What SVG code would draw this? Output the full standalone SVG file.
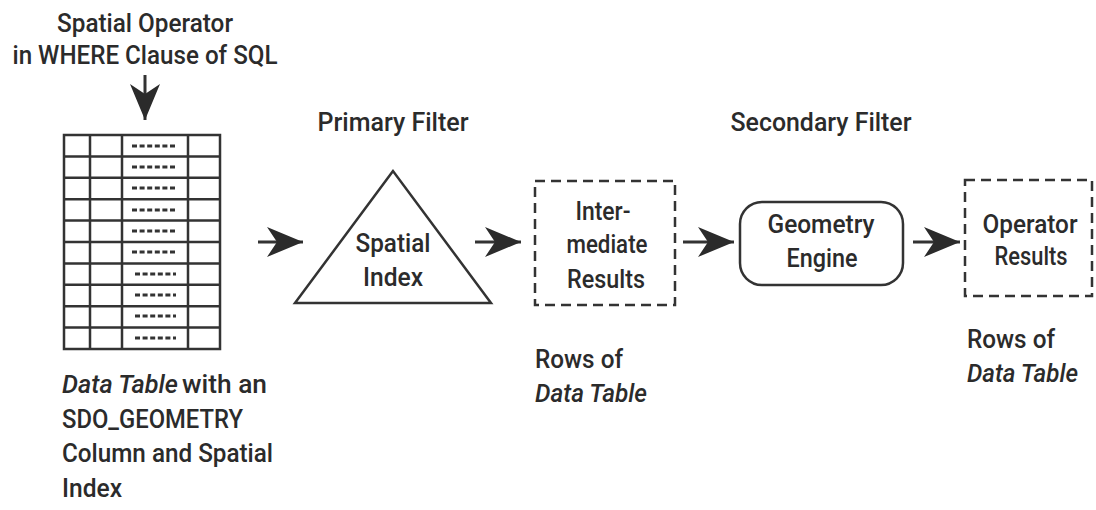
<svg xmlns="http://www.w3.org/2000/svg" width="1096" height="510" viewBox="0 0 1096 510">
<defs>
<style>
text{font-family:Roboto,"Liberation Sans",Arial,sans-serif;font-size:26px;font-weight:500;fill:#2b2b2b}
.c{text-anchor:middle}
.i{font-style:italic}
.ln{stroke:#333;stroke-width:3;fill:none}
.tb{stroke:#333;stroke-width:2.5;fill:none}
.dash{stroke:#333;stroke-width:2.5;fill:none;stroke-dasharray:10 6}
.cell{stroke:#333;stroke-width:3;stroke-dasharray:5 2.6}
</style>
<marker id="ah" markerWidth="40" markerHeight="32" refX="36" refY="16" orient="auto" markerUnits="userSpaceOnUse">
<path d="M36,16 L0,1 L10,16 L0,31 Z" fill="#2b2b2b"/>
</marker>
</defs>
<g id="title">
<text class="c" x="145" y="32" textLength="176" lengthAdjust="spacingAndGlyphs">Spatial Operator</text>
<text class="c" x="145" y="64" textLength="265" lengthAdjust="spacingAndGlyphs">in WHERE Clause of SQL</text>
</g>
<g id="data-table">
<rect x="64" y="135" width="156" height="214" class="tb"/>
<path class="tb" d="M90,135V349M122,135V349M188,135V349M64,156.4H220M64,177.8H220M64,199.2H220M64,220.6H220M64,242H220M64,263.4H220M64,284.8H220M64,306.2H220M64,327.6H220"/>
<path class="cell" d="M132,146H175M132,167H175M132,188H175M132,210H175M132,231H175M132,252H175M135,274H176M135,295H176M135,316H176M135,338H176"/>
<text x="62" y="393" class="i" textLength="116" lengthAdjust="spacingAndGlyphs">Data Table</text>
<text x="182" y="393" textLength="85" lengthAdjust="spacingAndGlyphs">with an</text>
<text x="62" y="428" textLength="181" lengthAdjust="spacingAndGlyphs">SDO_GEOMETRY</text>
<text x="62" y="462" textLength="211" lengthAdjust="spacingAndGlyphs">Column and Spatial</text>
<text x="62" y="497" textLength="60" lengthAdjust="spacingAndGlyphs">Index</text>
</g>
<g id="primary-filter">
<text class="c" x="393" y="131" textLength="151" lengthAdjust="spacingAndGlyphs">Primary Filter</text>
</g>
<g id="spatial-index">
<polygon points="393,171 295,303 491,303" class="tb"/>
<text class="c" x="393" y="252" textLength="75" lengthAdjust="spacingAndGlyphs">Spatial</text>
<text class="c" x="393" y="286" textLength="60" lengthAdjust="spacingAndGlyphs">Index</text>
</g>
<g id="intermediate-results">
<rect x="535" y="181" width="140" height="124" class="dash"/>
<text class="c" x="603" y="220" textLength="55" lengthAdjust="spacingAndGlyphs">Inter-</text>
<text class="c" x="607" y="253" textLength="81" lengthAdjust="spacingAndGlyphs">mediate</text>
<text class="c" x="606" y="288" textLength="78" lengthAdjust="spacingAndGlyphs">Results</text>
<text x="535" y="368" textLength="88" lengthAdjust="spacingAndGlyphs">Rows of</text>
<text x="535" y="402" class="i" textLength="112" lengthAdjust="spacingAndGlyphs">Data Table</text>
</g>
<g id="secondary-filter">
<text class="c" x="821" y="131" textLength="181" lengthAdjust="spacingAndGlyphs">Secondary Filter</text>
</g>
<g id="geometry-engine">
<rect x="740" y="202" width="163" height="83" rx="22" class="tb"/>
<text class="c" x="821" y="233" textLength="107" lengthAdjust="spacingAndGlyphs">Geometry</text>
<text class="c" x="822" y="267" textLength="71" lengthAdjust="spacingAndGlyphs">Engine</text>
</g>
<g id="operator-results">
<rect x="965" y="180" width="127" height="116" class="dash"/>
<text class="c" x="1030" y="233" textLength="95" lengthAdjust="spacingAndGlyphs">Operator</text>
<text class="c" x="1031" y="265" textLength="73" lengthAdjust="spacingAndGlyphs">Results</text>
<text x="967" y="348" textLength="88" lengthAdjust="spacingAndGlyphs">Rows of</text>
<text x="967" y="382" class="i" textLength="111" lengthAdjust="spacingAndGlyphs">Data Table</text>
</g>
<g id="connectors">
<line x1="145" y1="75" x2="145" y2="120" class="ln" marker-end="url(#ah)"/>
<line x1="258" y1="242" x2="303" y2="242" class="ln" marker-end="url(#ah)"/>
<line x1="475" y1="242" x2="521" y2="242" class="ln" marker-end="url(#ah)"/>
<line x1="683" y1="242" x2="734" y2="242" class="ln" marker-end="url(#ah)"/>
<line x1="913" y1="242" x2="960" y2="242" class="ln" marker-end="url(#ah)"/>
</g>
</svg>
